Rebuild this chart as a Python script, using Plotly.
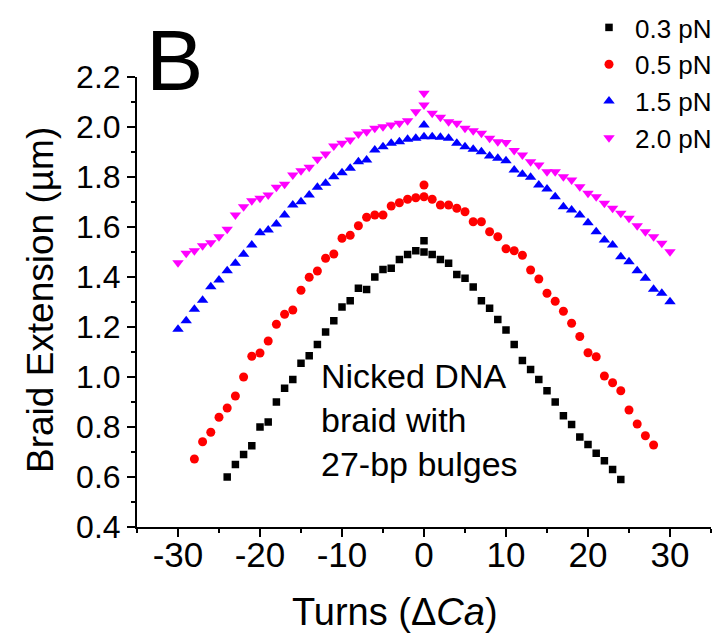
import plotly.graph_objects as go

FONT = "Liberation Sans, Arial, sans-serif"

# ---- data ----
turns_03 = [-24, -23, -22, -21, -20, -19, -18, -17, -16, -15, -14, -13, -12, -11, -10, -9, -8, -7, -6, -5, -4, -3, -2, -1,
            0, 1, 2, 3, 4, 5, 6, 7, 8, 9, 10, 11, 12, 13, 14, 15, 16, 17, 18, 19, 20, 21, 22, 23, 24, 0]
ext_03 = [0.60, 0.65, 0.69, 0.725, 0.80, 0.82, 0.90, 0.955, 0.99, 1.055, 1.085, 1.13, 1.18, 1.225, 1.28, 1.305,
          1.355, 1.35, 1.40, 1.43, 1.435, 1.47, 1.49, 1.505, 1.50, 1.49, 1.47, 1.455, 1.41, 1.395, 1.36, 1.305,
          1.275, 1.23, 1.188, 1.13, 1.066, 1.03, 0.99, 0.945, 0.90, 0.845, 0.81, 0.76, 0.73, 0.695, 0.665, 0.63,
          0.59, 1.545]

turns_05 = [-28, -27, -26, -25, -24, -23, -22, -21, -20, -19, -18, -17, -16, -15, -14, -13, -12, -11, -10, -9, -8,
            -7, -6, -5, -4, -3, -2, -1, 0, 1, 2, 3, 4, 5, 6, 7, 8, 9, 10, 11, 12, 13, 14, 15, 16, 17, 18, 19, 20,
            21, 22, 23, 24, 25, 26, 27, 28, 0]
ext_05 = [0.672, 0.741, 0.779, 0.839, 0.876, 0.924, 1.00, 1.083, 1.096, 1.144, 1.211, 1.251, 1.268, 1.347, 1.399,
          1.424, 1.475, 1.492, 1.555, 1.567, 1.605, 1.639, 1.648, 1.648, 1.684, 1.697, 1.711, 1.717, 1.721, 1.711,
          1.688, 1.688, 1.675, 1.661, 1.621, 1.621, 1.581, 1.561, 1.513, 1.505, 1.487, 1.428, 1.392, 1.335, 1.303,
          1.263, 1.215, 1.162, 1.097, 1.081, 1.004, 0.977, 0.945, 0.868, 0.812, 0.765, 0.728, 1.768]

turns_15 = [-30, -29, -28, -27, -26, -25, -24, -23, -22, -21, -20, -19, -18, -17, -16, -15, -14, -13, -12, -11, -10,
            -9, -8, -7, -6, -5, -4, -3, -2, -1, 0, 1, 2, 3, 4, 5, 6, 7, 8, 9, 10, 11, 12, 13, 14, 15, 16, 17, 18,
            19, 20, 21, 22, 23, 24, 25, 26, 27, 28, 29, 30, 0]
ext_15 = [1.191, 1.225, 1.271, 1.307, 1.361, 1.388, 1.425, 1.455, 1.491, 1.528, 1.577, 1.588, 1.612, 1.648, 1.688,
          1.701, 1.728, 1.759, 1.775, 1.801, 1.817, 1.835, 1.861, 1.868, 1.908, 1.921, 1.935, 1.941, 1.951, 1.955,
          1.961, 1.961, 1.959, 1.955, 1.935, 1.921, 1.911, 1.901, 1.884, 1.875, 1.865, 1.828, 1.811, 1.799, 1.768,
          1.752, 1.721, 1.681, 1.668, 1.648, 1.617, 1.581, 1.548, 1.528, 1.481, 1.461, 1.425, 1.395, 1.351, 1.335,
          1.301, 2.008]

turns_20 = list(turns_15)
ext_20 = [1.457, 1.495, 1.505, 1.525, 1.537, 1.561, 1.591, 1.648, 1.681, 1.705, 1.715, 1.728, 1.759, 1.771, 1.808,
          1.825, 1.839, 1.871, 1.892, 1.924, 1.935, 1.948, 1.972, 1.981, 1.995, 2.001, 2.008, 2.015, 2.025, 2.061,
          2.088, 2.055, 2.039, 2.021, 2.015, 1.995, 1.985, 1.975, 1.955, 1.941, 1.938, 1.906, 1.888, 1.861, 1.848,
          1.821, 1.821, 1.801, 1.788, 1.761, 1.735, 1.721, 1.695, 1.675, 1.655, 1.635, 1.605, 1.581, 1.561, 1.535,
          1.501, 2.135]

series_names = ["0.3 pN", "0.5 pN", "1.5 pN", "2.0 pN"]
x_ticks = [-30, -20, -10, 0, 10, 20, 30]
y_ticks = [0.4, 0.6, 0.8, 1.0, 1.2, 1.4, 1.6, 1.8, 2.0, 2.2]

# ---- figure ----
styles = [
    dict(symbol="square", color="#000000", size=7.5),
    dict(symbol="circle", color="#ff0000", size=9),
    dict(symbol="triangle-up", color="#0000ff", size=10),
    dict(symbol="triangle-down", color="#ff00ff", size=10),
]
xs = [turns_03, turns_05, turns_15, turns_20]
ys = [ext_03, ext_05, ext_15, ext_20]

fig = go.Figure()
for name, x, y, st in zip(series_names, xs, ys, styles):
    fig.add_trace(go.Scatter(
        x=x, y=y, mode="markers", name=name,
        marker=dict(symbol=st["symbol"], color=st["color"], size=st["size"], line=dict(width=0)),
    ))

W, H = 715, 635
L, R, T, B = 137, 4, 77, 108
PW, PH = W - L - R, H - T - B


def px_x(px):
    return (px - L) / PW


def px_y(py):
    return (H - B - py) / PH


fig.update_layout(
    width=W, height=H,
    margin=dict(l=L, r=R, t=T, b=B, pad=0, autoexpand=False),
    paper_bgcolor="white", plot_bgcolor="white",
    font=dict(family=FONT, color="black"),
    showlegend=True,
    legend=dict(
        x=px_x(583), y=px_y(4), xref="paper", yref="paper",
        xanchor="left", yanchor="top",
        font=dict(size=26, family=FONT, color="black"),
        bgcolor="rgba(0,0,0,0)", tracegroupgap=0, itemsizing="trace", itemwidth=42,
    ),
    xaxis=dict(
        range=[-35, 35], tickvals=x_ticks, ticktext=[str(v) for v in x_ticks],
        showgrid=False, zeroline=False, showline=True, linecolor="black", linewidth=2,
        ticks="outside", ticklen=8, tickwidth=2, tickcolor="black",
        tickfont=dict(size=35, family=FONT, color="black"),
        ticklabelstandoff=-12,
        minor=dict(dtick=5, tick0=0, ticks="outside", ticklen=4, tickwidth=1.5, tickcolor="black"),
        automargin=False,
    ),
    yaxis=dict(
        range=[0.4, 2.2], tickvals=y_ticks, ticktext=[f"{v:.1f}" for v in y_ticks],
        showgrid=False, zeroline=False, showline=True, linecolor="black", linewidth=2,
        ticks="outside", ticklen=8, tickwidth=2, tickcolor="black",
        tickfont=dict(size=32, family=FONT, color="black"),
        minor=dict(dtick=0.1, tick0=0, ticks="outside", ticklen=4, tickwidth=1.5, tickcolor="black"),
        automargin=False,
    ),
    annotations=[
        dict(text="B", xref="paper", yref="paper", x=px_x(174), y=px_y(60),
             xanchor="center", yanchor="middle", showarrow=False,
             font=dict(size=86, family=FONT, color="black")),
        dict(text="Nicked DNA<br>braid with<br>27-bp bulges", xref="x", yref="y", x=-12.8, y=0.83,
             xanchor="left", yanchor="middle", align="left", showarrow=False,
             font=dict(size=34, family=FONT, color="black")),
        dict(text="Turns (Δ<i>Ca</i>)", xref="paper", yref="paper", x=px_x(395), y=px_y(612),
             xanchor="center", yanchor="middle", showarrow=False,
             font=dict(size=38, family=FONT, color="black")),
        dict(text="Braid Extension (µm)", xref="paper", yref="paper", x=px_x(40), y=px_y(300),
             xanchor="center", yanchor="middle", textangle=-90, showarrow=False,
             font=dict(size=37, family=FONT, color="black")),
    ],
)

fig.write_html("out.html", config={"displayModeBar": False},
               post_script="document.body.style.margin='0px';document.body.style.overflow='hidden';")
